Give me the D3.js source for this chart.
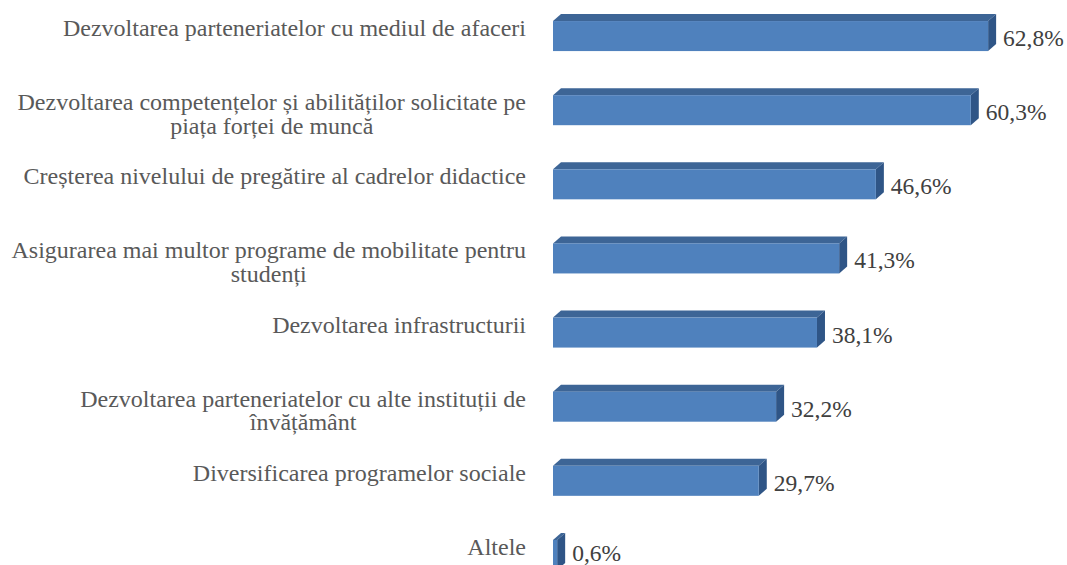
<!DOCTYPE html>
<html><head><meta charset="utf-8"><script src="https://cdn.jsdelivr.net/npm/d3@7"></script></head>
<body style="margin:0">
<svg id="s" width="1067" height="565"></svg>
<script>
// ---- data ----
const categories = [
  ["Dezvoltarea parteneriatelor cu mediul de afaceri"],
  ["Dezvoltarea competențelor și abilităților solicitate pe", "piața forței de muncă"],
  ["Creșterea nivelului de pregătire al cadrelor didactice"],
  ["Asigurarea mai multor programe de mobilitate pentru", "studenți"],
  ["Dezvoltarea infrastructurii"],
  ["Dezvoltarea parteneriatelor cu alte instituții de", "învățământ"],
  ["Diversificarea programelor sociale"],
  ["Altele"]
];
const values = [62.8, 60.3, 46.6, 41.3, 38.1, 32.2, 29.7, 0.6];
const valueLabels = ["62,8%", "60,3%", "46,6%", "41,3%", "38,1%", "32,2%", "29,7%", "0,6%"];

// ---- layout ----
const svg = d3.select("#s");
const ids = categories.map((c, i) => i);

const x = d3.scaleLinear().domain([0, 70]).range([553, 1038]);
const y = d3.scaleBand().domain(ids).range([-1, 592]).paddingInner(0.595).paddingOuter(0.2975);

const dx = 8, dy = 7;
const colFront = "#4F81BD", colTop = "#3D6596", colSide = "#2F5586";
const fontSize = 24;
const FONT = '"Liberation Serif"';

ids.forEach(i => {
  const x0 = x(0), x1 = x(values[i]), t = y(i), b = y(i) + y.bandwidth();
  svg.append("polygon").attr("fill", colTop)
    .attr("points", [[x0, t], [x0 + dx, t - dy], [x1 + dx, t - dy], [x1, t]].map(p => p.join(",")).join(" "));
  svg.append("polygon").attr("fill", colSide)
    .attr("points", [[x1, t], [x1 + dx, t - dy], [x1 + dx, b - dy], [x1, b]].map(p => p.join(",")).join(" "));
  svg.append("rect").attr("fill", colFront)
    .attr("x", x0).attr("y", t).attr("width", x1 - x0).attr("height", y.bandwidth());
});

// value labels
ids.forEach(i => {
  svg.append("text")
    .attr("x", x(values[i]) + 15)
    .attr("y", Math.min(y(i) + y.bandwidth() / 2 + 10, 561))
    .attr("font-size", 23.5)
    .style("font-family", FONT)
    .attr("fill", "#404040")
    .text(valueLabels[i]);
});

// category labels (one text per line)
const labelRight = 526;
const lineH = 23.5;
ids.forEach(i => {
  const lines = categories[i];
  const cy = y(i) + y.bandwidth() / 2;
  const nodes = lines.map((ln, k) => svg.append("text")
    .attr("y", cy + k * lineH)
    .attr("font-size", fontSize)
    .style("font-family", FONT)
    .attr("fill", "#595959")
    .text(ln));
  const maxW = d3.max(nodes, n => n.node().getComputedTextLength());
  if (lines.length === 1) {
    nodes[0].attr("x", labelRight).attr("text-anchor", "end");
  } else {
    const cx = labelRight - maxW / 2;
    nodes.forEach(n => n.attr("x", cx).attr("text-anchor", "middle"));
  }
});
</script></body></html>
